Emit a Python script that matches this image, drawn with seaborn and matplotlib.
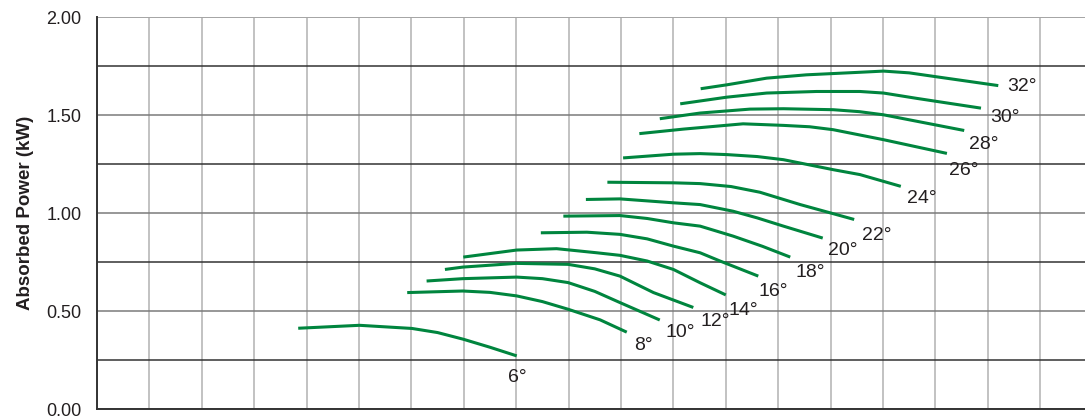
import matplotlib
matplotlib.use("Agg")
import matplotlib.pyplot as plt
import seaborn as sns
import pandas as pd
from matplotlib.ticker import MultipleLocator, NullFormatter

# curve data (x in grid columns, y in kW)
x_06 = [3.84, 5.01, 6.01, 6.50, 6.99, 7.50, 8.01]
y_06 = [0.412, 0.427, 0.411, 0.390, 0.356, 0.315, 0.271]
x_08 = [5.92, 6.98, 7.50, 8.01, 8.50, 8.99, 9.60, 10.11]
y_08 = [0.594, 0.602, 0.595, 0.577, 0.548, 0.509, 0.455, 0.392]
x_10 = [6.29, 6.98, 8.01, 8.50, 8.99, 9.50, 9.98, 10.74]
y_10 = [0.653, 0.665, 0.673, 0.665, 0.645, 0.600, 0.543, 0.454]
x_12 = [6.64, 6.98, 8.01, 8.99, 9.50, 9.98, 10.62, 11.38]
y_12 = [0.712, 0.724, 0.743, 0.738, 0.715, 0.678, 0.594, 0.518]
x_14 = [6.99, 8.01, 8.77, 9.54, 9.98, 10.50, 11.00, 11.51, 12.00]
y_14 = [0.775, 0.811, 0.818, 0.797, 0.784, 0.755, 0.712, 0.644, 0.582]
x_16 = [8.47, 9.35, 9.98, 10.50, 11.00, 11.51, 11.89, 12.62]
y_16 = [0.899, 0.902, 0.891, 0.868, 0.831, 0.797, 0.755, 0.678]
x_18 = [8.90, 9.98, 10.50, 11.00, 11.51, 12.14, 12.70, 13.23]
y_18 = [0.984, 0.987, 0.972, 0.950, 0.933, 0.882, 0.830, 0.775]
x_20 = [9.33, 9.98, 11.00, 11.51, 12.14, 12.60, 13.10, 13.85]
y_20 = [1.069, 1.072, 1.052, 1.043, 1.009, 0.975, 0.933, 0.872]
x_22 = [9.74, 11.00, 11.51, 12.10, 12.65, 13.42, 14.45]
y_22 = [1.157, 1.154, 1.150, 1.135, 1.106, 1.043, 0.967]
x_24 = [10.04, 11.00, 11.51, 12.02, 12.60, 13.10, 14.05, 14.56, 15.34]
y_24 = [1.281, 1.300, 1.303, 1.298, 1.288, 1.272, 1.221, 1.196, 1.136]
x_26 = [10.35, 11.19, 12.33, 13.10, 13.60, 14.05, 15.01, 16.22]
y_26 = [1.405, 1.428, 1.455, 1.447, 1.440, 1.425, 1.374, 1.304]
x_28 = [10.74, 11.51, 12.46, 13.10, 14.05, 14.55, 15.01, 16.55]
y_28 = [1.481, 1.510, 1.530, 1.532, 1.527, 1.517, 1.501, 1.421]
x_30 = [11.13, 12.02, 12.78, 13.73, 14.56, 15.01, 15.64, 16.87]
y_30 = [1.557, 1.591, 1.612, 1.620, 1.620, 1.612, 1.585, 1.535]
x_32 = [11.52, 12.02, 12.78, 13.54, 14.56, 15.01, 15.50, 16.02, 17.20]
y_32 = [1.634, 1.654, 1.688, 1.705, 1.718, 1.724, 1.715, 1.695, 1.650]

angles = ["6°", "8°", "10°", "12°", "14°", "16°", "18°",
          "20°", "22°", "24°", "26°", "28°", "30°", "32°"]
label_x = [8.02, 10.42, 11.13, 11.79, 12.33, 12.90, 13.61,
           14.24, 14.89, 15.74, 16.55, 16.93, 17.33, 17.65]
label_y = [0.163, 0.326, 0.392, 0.448, 0.504, 0.600, 0.697,
           0.809, 0.886, 1.074, 1.216, 1.349, 1.486, 1.644]

xs = [x_06, x_08, x_10, x_12, x_14, x_16, x_18, x_20, x_22, x_24, x_26, x_28, x_30, x_32]
ys = [y_06, y_08, y_10, y_12, y_14, y_16, y_18, y_20, y_22, y_24, y_26, y_28, y_30, y_32]

rows = []
for a, cx, cy in zip(angles, xs, ys):
    for i in range(len(cx)):
        rows.append({"angle": a, "x": cx[i], "y": cy[i]})
df = pd.DataFrame(rows)

sns.set_style("white")
plt.rcParams['font.family'] = ['Liberation Sans', 'DejaVu Sans']

green = "#00853e"

fig = plt.figure(figsize=(10.85, 4.18), dpi=100)
ax = fig.add_axes([97 / 1085, 9 / 418, 988 / 1085, 392 / 418])

sns.lineplot(data=df, x="x", y="y", units="angle", estimator=None, sort=False,
             color=green, linewidth=2.2, ax=ax, zorder=5)
for line in ax.lines:
    line.set_solid_joinstyle("round")
    line.set_solid_capstyle("butt")

for t, lx, ly in zip(angles, label_x, label_y):
    ax.text(lx, ly, t, fontsize=14, ha="center", va="center", color="#231f20")

ax.set_xlim(0, 988 / 52.4)
ax.set_ylim(0, 2.0)

ax.xaxis.set_major_locator(MultipleLocator(1))
ax.xaxis.set_major_formatter(NullFormatter())
ax.tick_params(axis="x", length=0)
ax.yaxis.set_minor_locator(MultipleLocator(0.25))
ax.set_yticks([0, 0.5, 1.0, 1.5, 2.0])
ax.set_yticklabels(["0.00", "0.50", "1.00", "1.50", "2.00"])
ax.tick_params(axis="y", which="major", length=7, width=1.0, color="#333333",
               labelsize=13, labelcolor="#231f20", pad=4)
ax.tick_params(axis="y", which="minor", length=0)

ax.grid(True, axis="x", which="major", color="#c2c2c2", linewidth=1.4)
ax.grid(True, axis="y", which="major", color="#7a7a7a", linewidth=1.1)
ax.grid(True, axis="y", which="minor", color="#333333", linewidth=1.1)
ax.set_axisbelow(True)

for s in ["top", "right"]:
    ax.spines[s].set_visible(False)
ax.axhline(2.0, color="#a8a8a8", linewidth=1.3, zorder=1)
ax.spines["left"].set_color("#333333")
ax.spines["bottom"].set_color("#333333")
ax.spines["left"].set_linewidth(1.4)
ax.spines["bottom"].set_linewidth(1.4)

ax.set_xlabel("")
ax.set_ylabel("Absorbed Power (kW)", fontsize=13.5, fontweight="bold",
              color="#231f20", labelpad=9)

fig.savefig("out.png", dpi=100)
